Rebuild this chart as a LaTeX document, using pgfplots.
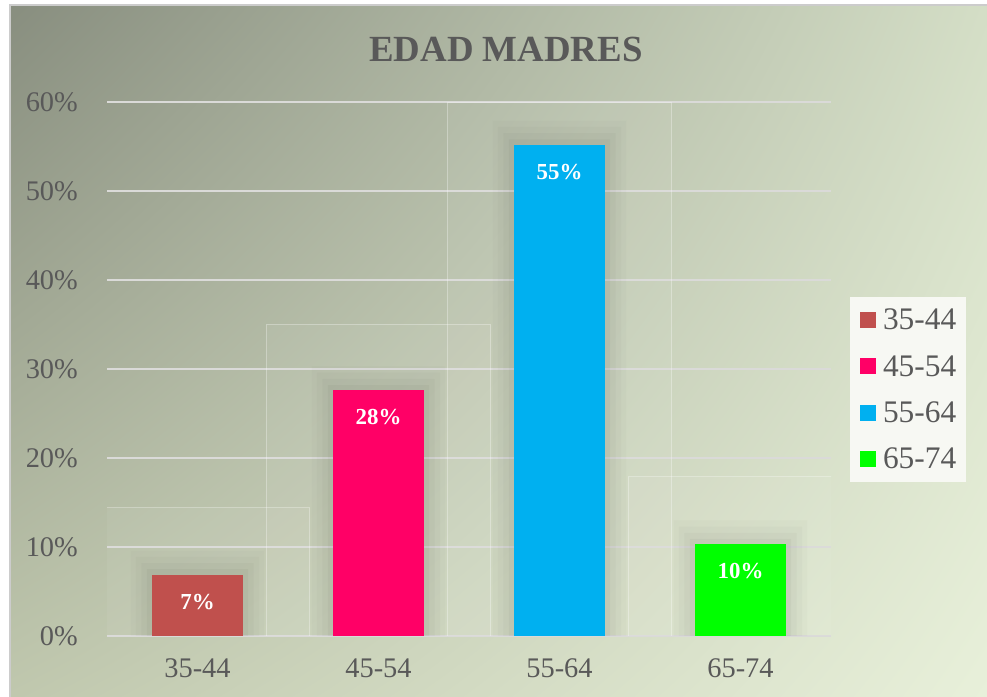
\documentclass[border=0pt]{standalone}
\usepackage{pgfplots}
\pgfplotsset{compat=1.18}
\usetikzlibrary{shadings}
\usepackage{fontspec}
\setmainfont{Liberation Serif}
\definecolor{bgTL}{RGB}{136,142,127}
\definecolor{bgTR}{RGB}{212,222,198}
\definecolor{bgBL}{RGB}{192,200,174}
\definecolor{bgBR}{RGB}{232,240,218}
\definecolor{txt}{RGB}{89,89,89}
\definecolor{gridc}{RGB}{218,218,216}
\definecolor{legbg}{RGB}{247,248,243}
\definecolor{cA}{HTML}{C0504D}
\definecolor{cB}{HTML}{FF0066}
\definecolor{cC}{HTML}{00B0F0}
\definecolor{cD}{HTML}{00FF00}
\begin{document}
\begin{tikzpicture}[x=1bp,y=1bp]
\useasboundingbox (0,0) rectangle (987,697);
\fill[white] (0,0) rectangle (987,697);
\shade[upper left=bgTL, upper right=bgTR, lower left=bgBL, lower right=bgBR] (10,0) rectangle (987,692);
\draw[gray!40, line width=1.5bp] (10,0) -- (10,692) -- (987,692);
\node[font=\fontsize{37}{37}\selectfont\bfseries, text=txt] at (506,648) {EDAD MADRES};
\begin{axis}[
  at={(107bp,61bp)}, anchor=south west,
  scale only axis, width=724bp, height=534bp,
  xmin=-0.5, xmax=3.5, ymin=0, ymax=60,
  axis line style={draw=none}, tick style={draw=none},
  major tick length=0pt,
  xtick={0,1,2,3}, xticklabels={35-44,45-54,55-64,65-74},
  ytick={0,10,...,60}, yticklabels={0\%,10\%,20\%,30\%,40\%,50\%,60\%},
  ymajorgrids, major grid style={gridc, line width=2.6bp},
  ticklabel style={font=\fontsize{28.5}{28.5}\selectfont, text=txt, inner sep=0pt},
  yticklabel style={anchor=east, xshift=-29bp},
  xticklabel style={anchor=north, yshift=-23bp},
  legend style={at={(axis description cs:1.026,0.635)}, anchor=north west,
    fill=legbg, draw=none, font=\fontsize{31.5}{31.5}\selectfont, text=txt,
    inner xsep=10bp, inner ysep=12bp, row sep=24bp, column sep=7bp,
    nodes={inner sep=0pt, anchor=west}},
  legend cell align=left,
  legend image code/.code={\fill[#1] (0bp,-8bp) rectangle (16bp,8bp);},
  every node near coord/.style={anchor=center, yshift=-27bp,
    font=\fontsize{23}{23}\selectfont\bfseries, text=white},
]
% faint glow boxes
\fill[white, opacity=0.05] (axis cs:-0.619,0) rectangle (axis cs:0.619,14.4);
\draw[white, opacity=0.3, line width=0.8bp] (axis cs:-0.619,0) rectangle (axis cs:0.619,14.4);
\fill[white, opacity=0.05] (axis cs:0.381,0) rectangle (axis cs:1.619,35);
\draw[white, opacity=0.3, line width=0.8bp] (axis cs:0.381,0) rectangle (axis cs:1.619,35);
\fill[white, opacity=0.05] (axis cs:1.381,0) rectangle (axis cs:2.619,60);
\draw[white, opacity=0.3, line width=0.8bp] (axis cs:1.381,0) rectangle (axis cs:2.619,60);
\fill[white, opacity=0.05] (axis cs:2.381,0) rectangle (axis cs:3.6,17.9);
\draw[white, opacity=0.3, line width=0.8bp] (axis cs:2.381,0) rectangle (axis cs:3.6,17.9);
% soft shadows
\addplot[forget plot, ybar, bar shift=0, bar width=0.74, fill=black, fill opacity=0.015, draw=none] coordinates {(0,9.6) (1,30.3) (2,57.9) (3,13.0)};
\addplot[forget plot, ybar, bar shift=0, bar width=0.68, fill=black, fill opacity=0.02, draw=none] coordinates {(0,8.9) (1,29.6) (2,57.2) (3,12.3)};
\addplot[forget plot, ybar, bar shift=0, bar width=0.62, fill=black, fill opacity=0.025, draw=none] coordinates {(0,8.2) (1,28.9) (2,56.5) (3,11.6)};
\addplot[forget plot, ybar, bar shift=0, bar width=0.56, fill=black, fill opacity=0.03, draw=none] coordinates {(0,7.5) (1,28.2) (2,55.8) (3,10.9)};
% bars
\addplot[ybar, bar shift=0, bar width=0.5, fill=cA, draw=none, nodes near coords, point meta=explicit symbolic] coordinates {(0,6.9) [7\%]};
\addplot[ybar, bar shift=0, bar width=0.5, fill=cB, draw=none, nodes near coords, point meta=explicit symbolic] coordinates {(1,27.6) [28\%]};
\addplot[ybar, bar shift=0, bar width=0.5, fill=cC, draw=none, nodes near coords, point meta=explicit symbolic] coordinates {(2,55.2) [55\%]};
\addplot[ybar, bar shift=0, bar width=0.5, fill=cD, draw=none, nodes near coords, point meta=explicit symbolic] coordinates {(3,10.3) [10\%]};
\legend{35-44,45-54,55-64,65-74}
\end{axis}
\end{tikzpicture}
\end{document}
